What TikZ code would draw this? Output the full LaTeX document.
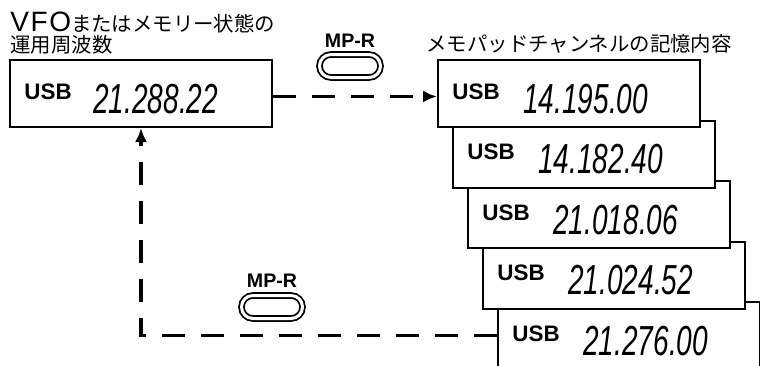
\documentclass[tikz,border=0pt]{standalone}
\usepackage{fontspec}
\setmainfont{Liberation Sans}
\newfontfamily\jpfont{Noto Sans CJK JP}
\newfontfamily\lcdfont{Liberation Sans Italic}
\usetikzlibrary{arrows.meta,positioning}
\newcommand\lcd[1]{\scalebox{0.667}[1]{#1}}
\newcommand\latin[1]{{\rmfamily\fontsize{14}{14}\selectfont #1}}
\tikzset{
  disp/.style={draw,line width=1pt,fill=white,minimum width=131pt,minimum height=33.5pt,inner sep=0pt},
  mode/.style={font=\bfseries\fontsize{11.2}{12}\selectfont,inner sep=0pt,anchor=base west},
  freq/.style={font=\lcdfont\fontsize{21}{22}\selectfont,inner sep=0pt,anchor=base west},
  captxt/.style={font=\jpfont\fontsize{10.2}{10.5}\selectfont,inner sep=0pt,align=left,anchor=base west},
  keyname/.style={font=\bfseries\fontsize{9.8}{10}\selectfont,inner sep=0pt},
  keycap/.style={draw,line width=0.9pt,double=white,double distance=1.5pt,rounded corners=5.7pt,minimum width=30.5pt,minimum height=11.5pt,inner sep=0pt},
  flow/.style={-{Latex[length=7pt,width=6pt]},line width=1.6pt,dash pattern=on 11.5pt off 8pt},
}
\begin{document}
\begin{tikzpicture}[x=0.5pt,y=-0.5pt]
  \useasboundingbox (0,0) rectangle (760,365);
  % captions
  \node[captxt] (vfocap) at (10,52) {\latin{V\kern0.8pt F\kern0.8pt O}またはメモリー状態の\\運用周波数};
  \node[captxt] (memcap) at (426,51) {メモパッドチャンネルの記憶内容};
  % operating frequency
  \node[disp] (vfo) at (141,93.5) {};
  \node[mode] (vfomode) at ([shift={(15,40)}]vfo.north west) {USB};
  \node[freq] (vfofreq) at ([shift={(84,54)}]vfo.north west) {\lcd{21.288.22}};
  % memory pad stack, back to front
  \foreach \k/\f in {5/21.276.00,4/21.024.52,3/21.018.06,2/14.182.40,1/14.195.00}{
     \node[disp] (mem\k) at ({569+15*(\k-1)},{93.5+60.5*(\k-1)}) {};
     \node[mode] (mode\k) at ([shift={(15,40)}]mem\k.north west) {USB};
     \node[freq] (freq\k) at ([shift={(86,54)}]mem\k.north west) {\lcd{\f}};}
  % keys
  \node[keycap] (keyA) at (350,66) {};
  \node[keyname,above=3pt of keyA] (keyAname) {MP-R};
  \node[keycap] (keyB) at (272,307) {};
  \node[keyname,above=3.5pt of keyB] (keyBname) {MP-R};
  % transfers
  \draw[flow] ([yshift=-1.5pt]vfo.east) -- ([yshift=-1.5pt]mem1.west);
  \draw[flow] (mem5.west) -| (vfo.south);
\end{tikzpicture}
\end{document}
